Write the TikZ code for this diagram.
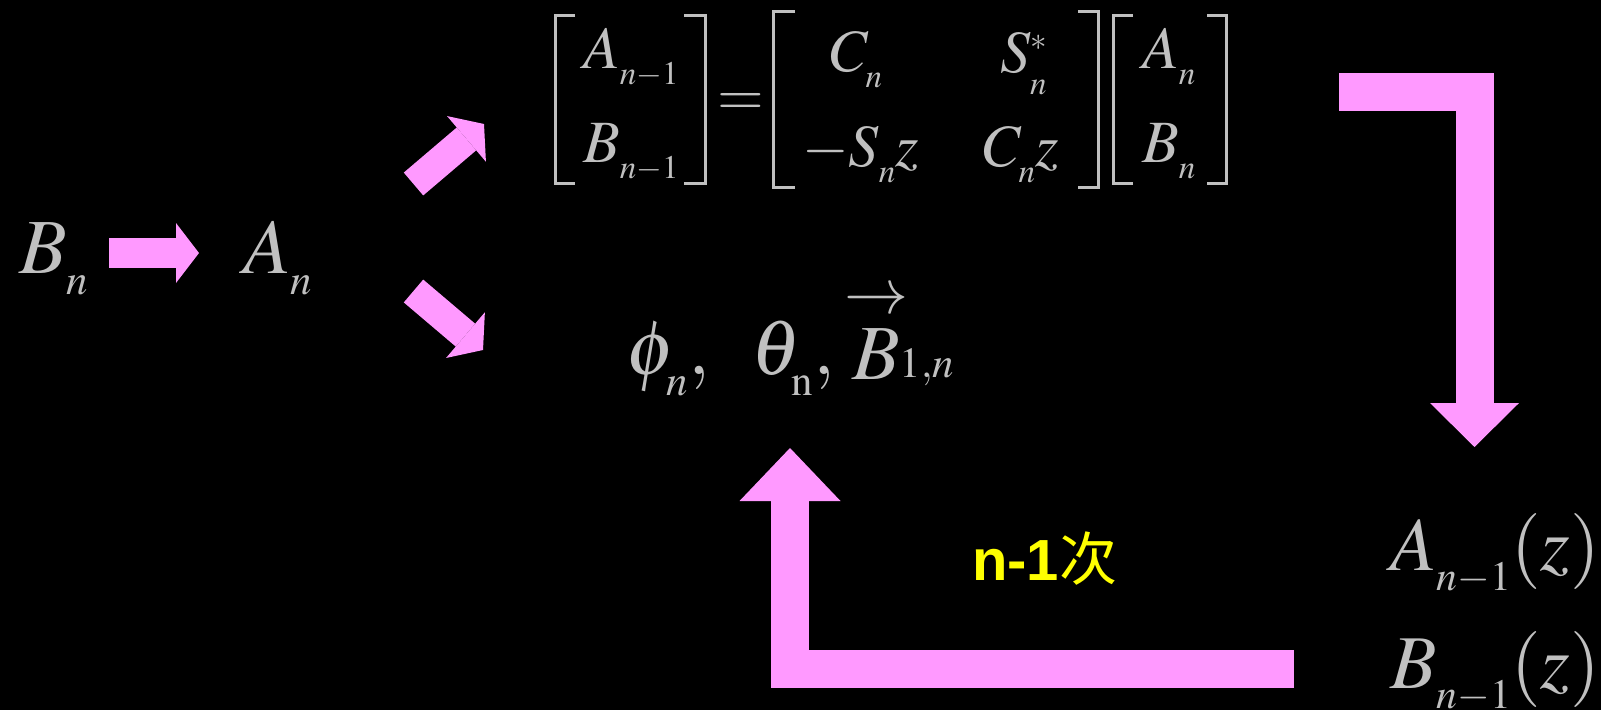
\documentclass[tikz,border=0pt]{standalone}
\usepackage{mathptmx}
\usepackage[no-math]{fontspec}
\newfontfamily\labelfont{Liberation Sans}
\newfontfamily\cjk{Noto Sans CJK SC}
\usetikzlibrary{arrows.meta}
\def\defaultscriptratio{.55}
% subscript set a little lower than TeX does it
\newcommand{\lowsub}[1]{_{\lower.12em\hbox{$\scriptstyle#1$}}}
% thin vector arrow over a letter
\newcommand{\vecarrow}[1]{{\stackrel{\hbox{\fontsize{64}{64}\selectfont$\rightarrow$}}{#1}}}
\definecolor{mathgray}{HTML}{C0C0C0}
\definecolor{arrowpink}{HTML}{FF99FF}
\definecolor{labelyellow}{HTML}{FFFF00}

\begin{document}
\begin{tikzpicture}[
    x=1pt, y=-1pt,
    sym/.style={anchor=base west, inner sep=0pt, text=mathgray},
    big/.style={sym, font=\fontsize{78}{80}\selectfont},
    entry/.style={sym, font=\fontsize{60}{62}\selectfont},
    result/.style={sym, font=\fontsize{76}{78}\selectfont},
    brk/.style={draw=mathgray, line width=3pt},
    fat/.style={draw=arrowpink, line width=30pt, -{Triangle[length=23pt, width=60pt, line width=0pt]}},
    bent/.style={draw=arrowpink, line width=38pt}
  ]

  % background
  \fill[black] (0,0) rectangle (1601,710);

  % ============ LEFT ============
  \node[big] (bn) at (19,273) {$B\lowsub{n}$};
  \node[big] (an) at (243,273) {$A\lowsub{n}$};

  \coordinate (ba0) at (109,253);
  \coordinate (ba1) at (199,253);
  \draw[fat] (ba0) -- (ba1);

  % split arrows
  \coordinate (up0) at (413.5,184);
  \coordinate (up1) at (484,124);
  \coordinate (dn0) at (413.5,291);
  \coordinate (dn1) at (483,350);
  \draw[fat] (up0) -- (up1);
  \draw[fat] (dn0) -- (dn1);

  % ============ RECURSION ============
  \node[entry] (an1) at (583,68) {$A\lowsub{n-1}$};
  \node[entry] (bn1) at (583,162) {$B\lowsub{n-1}$};
  \node[entry, anchor=base] (eqsign) at (741,115) {$=$};
  \node[entry] (c11) at (830,71) {$C\lowsub{n}$};
  \node[entry] (c12) at (1000,72) {$S\lowsub{n}^{*}$};
  \node[entry] (c21) at (802,166) {$-S\lowsub{n}z$};
  \node[entry] (c22) at (983,166) {$C\lowsub{n}z$};
  \node[entry] (va) at (1142,68) {$A\lowsub{n}$};
  \node[entry] (vb) at (1142,162) {$B\lowsub{n}$};

  % brackets
  \foreach \x/\s/\t/\b in {555/20/15/183, 705/-21/15/183, 773/22/11/187,
                           1098/-20/11/187, 1113/20/15/183, 1226/-19/15/183}
    \draw[brk] (\x+\s,\t) -- (\x,\t) -- (\x,\b) -- (\x+\s,\b);

  % angles
  \node[big] (angles) at (626,374)
    {$\phi\lowsub{n},\ \,\theta\lowsub{\mathrm{n}},\vecarrow{B}\!\lower3pt\hbox{$\scriptstyle 1,n$}$};

  % ============ OUTPUT ============
  \node[result] (an1z) at (1390,570) {$A\lowsub{n-1}(z)$};
  \node[result] (bn1z) at (1390,688) {$B\lowsub{n-1}(z)$};

  \node[anchor=base west, inner sep=0pt, text=labelyellow,
        font=\fontsize{58}{60}\selectfont] (times) at (972,580)
    {{\labelfont\bfseries n-1}{\cjk 次}};

  % loop arrows
  \coordinate (r0) at (1339,92);
  \coordinate (r1) at (1474.5,92);
  \coordinate (r2) at (1474.5,447);
  \draw[bent, -{Triangle[length=44pt, width=89pt, line width=0pt]}] (r0) -- (r1) -- (r2);

  \coordinate (l0) at (1294,669);
  \coordinate (l1) at (790,669);
  \coordinate (l2) at (790,448);
  \draw[bent, -{Triangle[length=53pt, width=101pt, line width=0pt]}] (l0) -- (l1) -- (l2);

\end{tikzpicture}
\end{document}
